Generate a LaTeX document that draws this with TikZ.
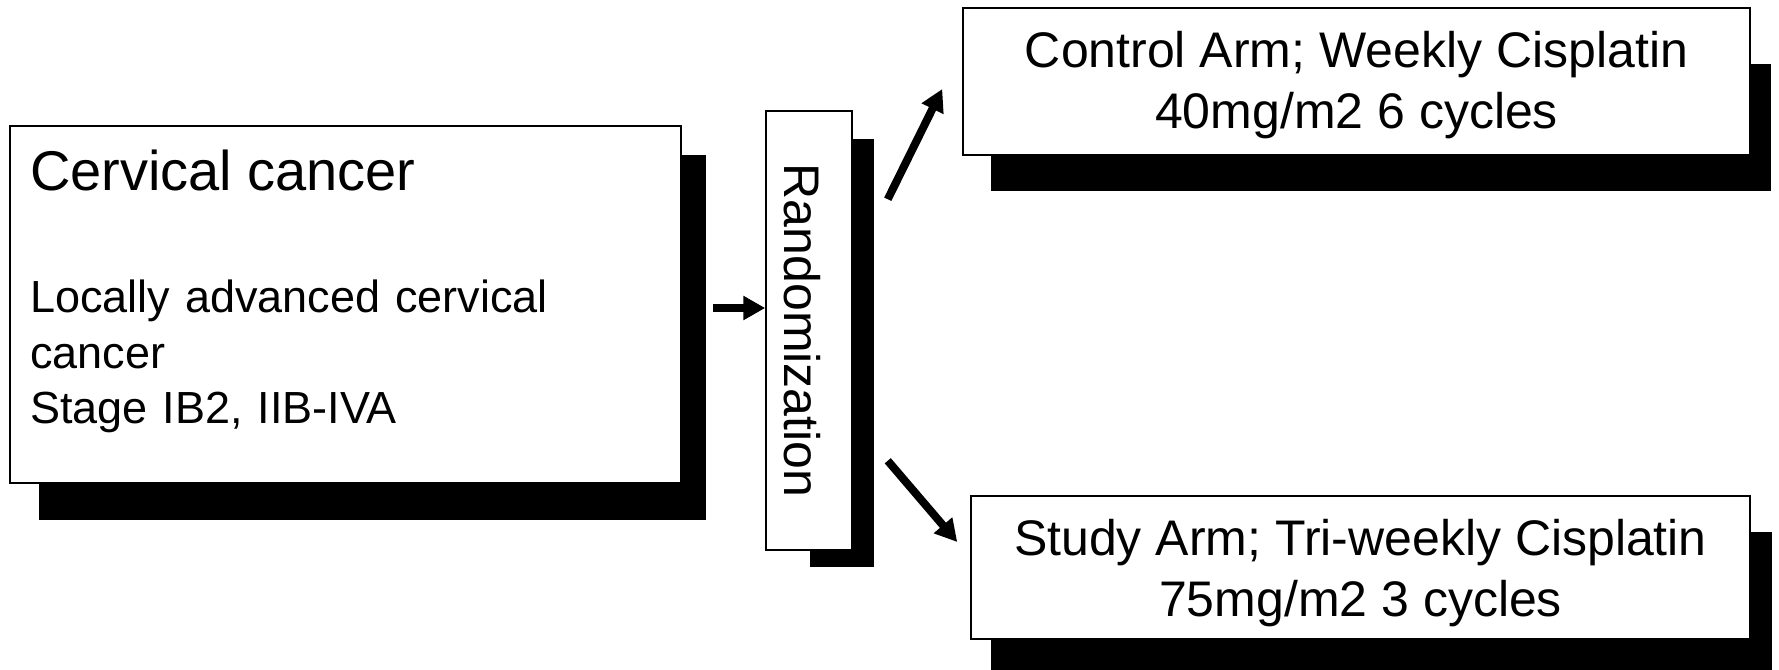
\documentclass[tikz,border=0pt]{standalone}
\usepackage{fontspec}
\setmainfont{Liberation Sans}
\usetikzlibrary{positioning,calc,arrows.meta,backgrounds}
\setlength{\parindent}{0pt}

\begin{document}
\begin{tikzpicture}[
x=1pt,
y=-1pt,
box/.style={
  draw,
  fill=white,
  line width=1.5pt,
  inner sep=0pt
  },
arm/.style={
  box,
  align=center,
  font=\fontsize{50}{61.5}\selectfont
  },
shade/.style={
  fill=black
  },
arr/.style={
  line width=8pt,
  -{Triangle[length=22pt,width=23pt]}
  }
]
\useasboundingbox (0,0) rectangle (1779,669);
\node[box, minimum width=671, minimum height=357, text width=631, align=left,
  font=\fontsize{45}{55.5}\selectfont] (cancer) at (345.5,304.5)
  {{\fontsize{56}{60}\selectfont Cervical cancer\par}
  \vspace{66.5pt}
  Locally advanced cervical\\cancer\\Stage IB2, IIB-IVA\rule[-35pt]{0pt}{0pt}};
\node[box, rotate=-90, minimum width=439, minimum height=86,
  font=\fontsize{50}{60}\selectfont] (rand) at (809,330.5) {\rule{0pt}{49pt}Randomization};
\node[arm, minimum width=787, minimum height=147] (ctrl) at (1356.5,81.5)
  {\rule{0pt}{43pt}Control Arm; Weekly Cisplatin\\40mg/m2 6 cycles};
\node[arm, minimum width=779, minimum height=143] (study) at (1360.5,567.5)
  {\rule{0pt}{47pt}Study Arm; Tri-weekly Cisplatin\\75mg/m2 3 cycles};
% shadows behind the boxes
\begin{scope}[on background layer]
\fill[white] (0,0) rectangle (1779,669);
\fill[shade] ($(cancer.north west)+(30,30)$) rectangle ($(cancer.south east)+(24,36)$);
\fill[shade] ($(rand.south west)+(45,29)$) rectangle ($(rand.north east)+(21,16)$);
\fill[shade] ($(ctrl.north west)+(29,57)$) rectangle ($(ctrl.south east)+(20,35)$);
\fill[shade] ($(study.north west)+(21,37)$) rectangle ($(study.south east)+(21,30)$);
\end{scope}
\coordinate (infrom) at ($(cancer.east)+(31,3.5)$);
\coordinate (upfrom) at ($(rand.north west)+(35,89)$);
\coordinate (upto) at ($(ctrl.west)+(-20,7.5)$);
\coordinate (downfrom) at ($(rand.north east)+(35,-90)$);
\coordinate (downto) at ($(study.west)+(-13,-25.5)$);
\draw[arr] (infrom) -- (infrom -| rand.south);
\draw[arr] (upfrom) -- (upto);
\draw[arr] (downfrom) -- (downto);
\end{tikzpicture}
\end{document}
